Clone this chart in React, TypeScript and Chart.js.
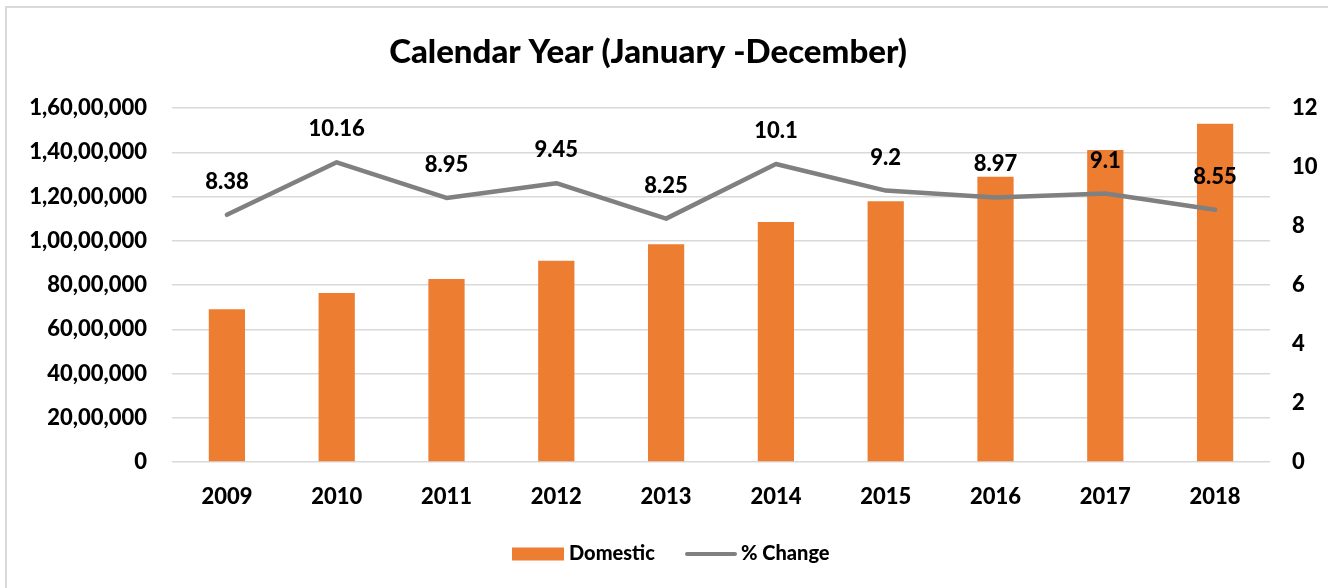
import React, { useEffect, useRef } from "react";
import { Chart, registerables } from "chart.js";

Chart.register(...registerables);

const chartTitle = "Calendar Year (January -December)";
const years = ["2009", "2010", "2011", "2012", "2013", "2014", "2015", "2016", "2017", "2018"];
const domestic = [6900000, 7640000, 8270000, 9100000, 9840000, 10850000, 11790000, 12890000, 14100000, 15290000];
const pctChange = [8.38, 10.16, 8.95, 9.45, 8.25, 10.1, 9.2, 8.97, 9.1, 8.55];
const pctLabels = ["8.38", "10.16", "8.95", "9.45", "8.25", "10.1", "9.2", "8.97", "9.1", "8.55"];
const seriesNames = ["Domestic", "% Change"];
const leftMax = 16000000;
const leftStep = 2000000;
const rightMax = 12;
const rightStep = 2;

const ORANGE = "#ED7D31";
const GRAY = "#808080";
const GRID = "#D9D9D9";
const FONT = "Lato, 'Open Sans', sans-serif";
const W = "900";

function indianFormat(v: number): string {
  const s = Math.round(v).toString();
  if (s.length <= 3) return s;
  const last3 = s.slice(-3);
  let rest = s.slice(0, -3);
  const parts: string[] = [];
  while (rest.length > 2) {
    parts.unshift(rest.slice(-2));
    rest = rest.slice(0, -2);
  }
  if (rest) parts.unshift(rest);
  return parts.join(",") + "," + last3;
}

const overlayPlugin = {
  id: "overlay",
  afterDatasetsDraw(chart: any) {
    const ctx = chart.ctx;
    const meta = chart.getDatasetMeta(1);
    ctx.save();
    ctx.font = `${W} 22px ${FONT}`;
    ctx.fillStyle = "#000";
    ctx.textAlign = "center";
    ctx.textBaseline = "middle";
    meta.data.forEach((pt: any, i: number) => {
      ctx.fillText(pctLabels[i], pt.x, pt.y - 33);
    });
    ctx.restore();
  },
  afterDraw(chart: any) {
    const ctx = chart.ctx;
    ctx.save();
    ctx.font = `${W} 33px ${FONT}`;
    ctx.fillStyle = "#000";
    ctx.textAlign = "center";
    ctx.textBaseline = "middle";
    ctx.fillText(chartTitle, 648, 52);
    const ly = 554;
    ctx.fillStyle = ORANGE;
    ctx.fillRect(512, ly - 6.5, 52, 13);
    ctx.font = `${W} 20px ${FONT}`;
    ctx.fillStyle = "#000";
    ctx.textAlign = "left";
    ctx.fillText(seriesNames[0], 569, ly);
    ctx.strokeStyle = GRAY;
    ctx.lineWidth = 4;
    ctx.lineCap = "round";
    ctx.beginPath();
    ctx.moveTo(687, ly);
    ctx.lineTo(735, ly);
    ctx.stroke();
    ctx.fillText(seriesNames[1], 741, ly);
    ctx.restore();
  },
};

export default function App() {
  const canvasRef = useRef<HTMLCanvasElement | null>(null);

  useEffect(() => {
    document.body.style.margin = "0";
    const canvas = canvasRef.current;
    if (!canvas) return;
    const tickFont = { family: FONT, size: 22, weight: W };
    const chart = new Chart(canvas, {
      type: "bar",
      data: {
        labels: years,
        datasets: [
          {
            type: "bar",
            label: seriesNames[0],
            data: domestic,
            backgroundColor: ORANGE,
            yAxisID: "y",
            order: 1,
            barPercentage: 0.33,
            categoryPercentage: 1,
          } as any,
          {
            type: "line",
            label: seriesNames[1],
            data: pctChange,
            borderColor: GRAY,
            backgroundColor: GRAY,
            borderWidth: 4.5,
            borderCapStyle: "round",
            borderJoinStyle: "round",
            pointRadius: 0,
            yAxisID: "y1",
            order: 0,
            tension: 0,
          } as any,
        ],
      },
      options: {
        animation: false,
        responsive: false,
        maintainAspectRatio: false,
        layout: { padding: { top: 108, bottom: 66, left: 0, right: 0 } },
        plugins: {
          legend: { display: false },
          title: { display: false },
          tooltip: { enabled: false },
        },
        scales: {
          x: {
            grid: { display: false, drawTicks: false },
            border: { display: false },
            ticks: { color: "#000", font: tickFont, padding: 22 },
            afterFit(scale: any) {
              scale.height = 60;
            },
          },
          y: {
            position: "left",
            min: 0,
            max: leftMax,
            grid: { color: GRID, lineWidth: 1.5, drawTicks: false },
            border: { display: false },
            ticks: {
              stepSize: leftStep,
              color: "#000",
              font: tickFont,
              padding: 25,
              callback: (v: any) => indianFormat(Number(v)),
            },
            afterFit(scale: any) {
              scale.width = 172;
            },
          },
          y1: {
            position: "right",
            min: 0,
            max: rightMax,
            grid: { display: false, drawTicks: false },
            border: { display: false },
            ticks: { stepSize: rightStep, color: "#000", font: tickFont, padding: 22 },
            afterFit(scale: any) {
              scale.width = 58;
            },
          },
        },
      } as any,
      plugins: [overlayPlugin],
    });
    return () => chart.destroy();
  }, []);

  return (
    <div style={{ position: "relative", width: 1328, height: 588, overflow: "hidden", background: "#fff" }}>
      <div
        style={{
          position: "absolute",
          left: 5,
          top: 6,
          width: 1400,
          height: 700,
          border: "2px solid #D9D9D9",
          boxSizing: "border-box",
        }}
      />
      <canvas
        ref={canvasRef}
        width={1328}
        height={588}
        style={{ position: "absolute", left: 0, top: 0, width: 1328, height: 588 }}
      />
    </div>
  );
}
